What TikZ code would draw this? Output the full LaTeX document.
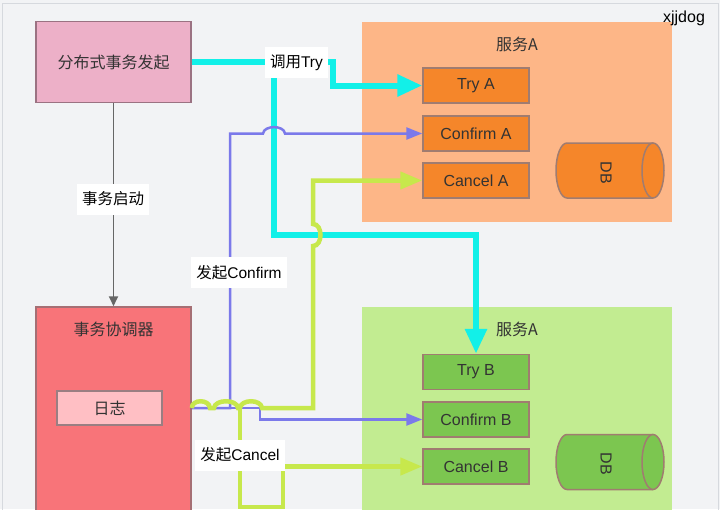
\documentclass[tikz,border=0pt]{standalone}
\usepackage{fontspec}
\setmainfont{Liberation Sans}
\newfontfamily\cjk{Noto Sans CJK SC}
\usetikzlibrary{arrows.meta}
\definecolor{bgC}{HTML}{F2F3F5}
\definecolor{edgeC}{HTML}{D6D9DE}
\definecolor{pinkF}{HTML}{EDB0C8}
\definecolor{pinkD}{HTML}{9B7282}
\definecolor{redF}{HTML}{F87479}
\definecolor{redD}{HTML}{A56F74}
\definecolor{logF}{HTML}{FFBFC4}
\definecolor{logD}{HTML}{9A7E82}
\definecolor{orangeBg}{HTML}{FDB687}
\definecolor{orangeF}{HTML}{F5862A}
\definecolor{boxD}{HTML}{A07C70}
\definecolor{greenBg}{HTML}{C2EC91}
\definecolor{greenF}{HTML}{7CC650}
\definecolor{cyanC}{HTML}{12F0E8}
\definecolor{purpleC}{HTML}{7B79EA}
\definecolor{limeC}{HTML}{C7E84C}
\definecolor{grayA}{HTML}{666666}
\definecolor{txtC}{HTML}{333333}
\begin{document}
\begin{tikzpicture}[x=1pt,y=-1pt,
  every node/.style={font=\fontsize{16}{19}\selectfont, text=txtC, inner sep=0pt},
  bigbox/.style={draw=#1, line width=1.5pt, minimum width=155pt},
  svcbox/.style={draw=none, minimum width=310pt},
  opbox/.style={draw=boxD, line width=1.5pt, minimum width=106pt, minimum height=35pt},
  lbl/.style={fill=white, text=black, inner xsep=5pt, minimum height=31pt, font=\fontsize{15.5}{18}\selectfont},
  cyanline/.style={draw=cyanC, line width=6pt, -{Triangle[length=25pt,width=21pt]}},
  purpleline/.style={draw=purpleC, line width=2.5pt, -{Triangle[length=16pt,width=12pt]}},
  limeline/.style={draw=limeC, line width=4.5pt, -{Triangle[length=22pt,width=17pt]}},
  cyl/.style={draw=boxD, line width=1.5pt}
]
\clip (0,0) rectangle (720,509);
\fill[bgC] (0,0) rectangle (720,509);
\draw[edgeC, line width=1pt] (2,530) -- (2,3) -- (718,3) -- (718,530);

% service containers
\node[svcbox, fill=orangeBg, minimum height=200pt] (svcA) at (517,122) {};
\node (svcAT) at (517,44) {\cjk 服务A};
\node[svcbox, fill=greenBg, minimum height=223pt] (svcB) at (517,418.5) {};
\node (svcBT) at (517,329) {\cjk 服务A};

% left boxes
\node[bigbox=pinkD, fill=pinkF, minimum height=81pt] (start) at (113.5,62) {\cjk 分布式事务发起};
\node[bigbox=redD, fill=redF, minimum height=223pt] (coord) at (113.5,418.5) {};
\node (coordT) at (113.5,329) {\cjk 事务协调器};
\node[draw=logD, line width=1.5pt, fill=logF, minimum width=105pt, minimum height=34pt] (log) at (109.5,408) {\cjk 日志};

% operation boxes
\node[opbox, fill=orangeF] (tryA) at (476,85.5) {Try A};
\node[opbox, fill=orangeF] (confA) at (476,133.5) {Confirm A};
\node[opbox, fill=orangeF] (cancA) at (476,180.5) {Cancel A};
\node[opbox, fill=greenF] (tryB) at (476,372) {Try B};
\node[opbox, fill=greenF] (confB) at (476,419.5) {Confirm B};
\node[opbox, fill=greenF] (cancB) at (476,466.5) {Cancel B};

% databases
\path[cyl, fill=orangeF] (653,143) -- (567,143) arc[start angle=-90,end angle=-270,x radius=11,y radius=27.5] -- (653,198);
\draw[cyl, fill=orangeF] (653,170.5) ellipse[x radius=11, y radius=27.5];
\node[rotate=-90] (dbA) at (606,173) {DB};
\path[cyl, fill=greenF] (653,434.5) -- (567,434.5) arc[start angle=-90,end angle=-270,x radius=11,y radius=27.5] -- (653,489.5);
\draw[cyl, fill=greenF] (653,462) ellipse[x radius=11, y radius=27.5];
\node[rotate=-90] (dbB) at (606,464) {DB};

% cyan: Try calls
\draw[cyanline] (start.east) -- (333,62) |- (tryA.west);
\draw[cyanline] (start.east) -- (274,62) -- (274,235) -| (tryB.north);

% purple: Confirm calls
\draw[purpleline] (coord.east |- log) -- (260,408) |- (confB.west);
\draw[purpleline] (coord.east |- log) -- (230,408) -- (230,133.5) -- (263,133.5)
  .. controls (264,125) and (284,125) .. (285,133.5) -- (confA.west);

% lime: Cancel calls
\draw[limeline] (coord.east |- log)
  .. controls (192,399) and (209,399) .. (210,408) -- (214,408)
  .. controls (215,399) and (237,399) .. (238,408) -- (240,408)
  .. controls (241,399) and (261,399) .. (262,408) -- (313,408) -- (313,246)
  .. controls (323,246) and (323,224) .. (313,224) -- (313,180.5) -- (cancA.west);
\draw[limeline] (240,408) -- (240,507) -- (283,507) |- (cancB.west);

% gray: start coordinator
\draw[grayA, line width=1.8pt, -{Triangle[length=10pt,width=9pt]}] (start.south) -- (coord.north);

% labels
\node[lbl] (lblTry) at (296.5,62.5) {{\cjk 调用}Try};
\node[lbl] (lblStart) at (113,199) {\cjk 事务启动};
\node[lbl] (lblConfirm) at (239,272.5) {{\cjk 发起}Confirm};
\node[lbl] (lblCancel) at (240,455) {{\cjk 发起}Cancel};
\node[text=black] (brand) at (684,18) {xjjdog};
\end{tikzpicture}
\end{document}
